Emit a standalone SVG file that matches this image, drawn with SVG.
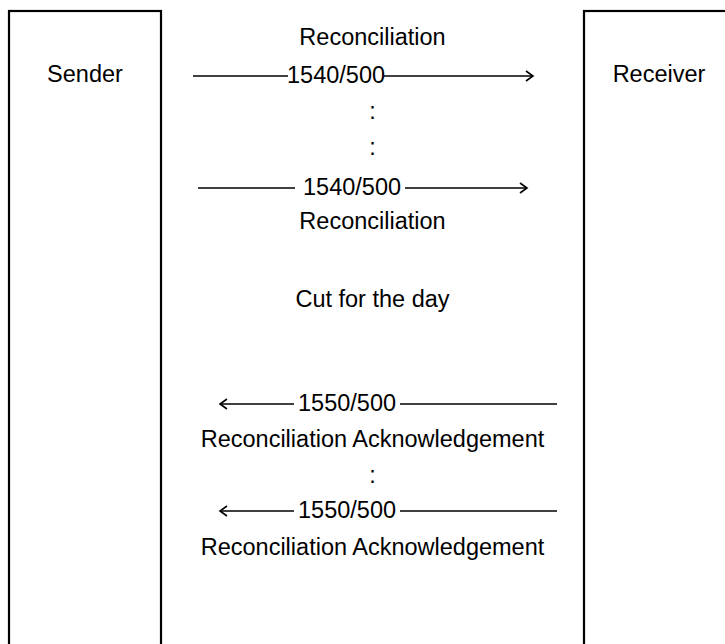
<svg xmlns="http://www.w3.org/2000/svg" width="725" height="644" viewBox="0 0 725 644">
<style>
.box{fill:#fff;stroke:#000;stroke-width:2.2}
.t{font-family:"Liberation Sans",Arial,sans-serif;font-size:23.5px;fill:#000;text-anchor:middle}
.ts{font-family:"Liberation Sans",Arial,sans-serif;font-size:23.5px;fill:#000}
.ln{fill:none;stroke:#000;stroke-width:1.3}
</style>
<defs>
<marker id="ah" markerWidth="10" markerHeight="12" refX="8" refY="6" orient="auto" markerUnits="userSpaceOnUse">
<path d="M1,1 L8,6 L1,11" fill="none" stroke="#000" stroke-width="1.6"/>
</marker>
</defs>
<rect width="725" height="644" fill="#fff"/>
<g id="sender">
<rect class="box" x="9" y="11" width="152" height="660"/>
<text class="t" x="85" y="82">Sender</text>
</g>
<g id="receiver">
<rect class="box" x="584" y="11" width="160" height="660"/>
<text class="t" x="659" y="82">Receiver</text>
</g>
<g id="connectors">
<path class="ln" d="M193,76 H288"/>
<path class="ln" d="M384,76 H533" marker-end="url(#ah)"/>
<path class="ln" d="M198,188 H295"/>
<path class="ln" d="M405,188 H527" marker-end="url(#ah)"/>
<path class="ln" d="M294,404 H220" marker-end="url(#ah)"/>
<path class="ln" d="M400,404 H557"/>
<path class="ln" d="M294,511 H220" marker-end="url(#ah)"/>
<path class="ln" d="M400,511 H557"/>
</g>
<g id="labels">
<text class="t" x="372.5" y="45">Reconciliation</text>
<text class="ts" x="287" y="82.5">1540/500</text>
<text class="t" x="372.5" y="119">:</text>
<text class="t" x="372.5" y="155">:</text>
<text class="ts" x="303" y="194.5">1540/500</text>
<text class="t" x="372.5" y="229">Reconciliation</text>
<text class="t" x="372.5" y="307">Cut for the day</text>
<text class="ts" x="298" y="410.5">1550/500</text>
<text class="t" x="372.5" y="447">Reconciliation Acknowledgement</text>
<text class="t" x="372.5" y="483">:</text>
<text class="ts" x="298" y="517.5">1550/500</text>
<text class="t" x="372.5" y="555">Reconciliation Acknowledgement</text>
</g>
</svg>
